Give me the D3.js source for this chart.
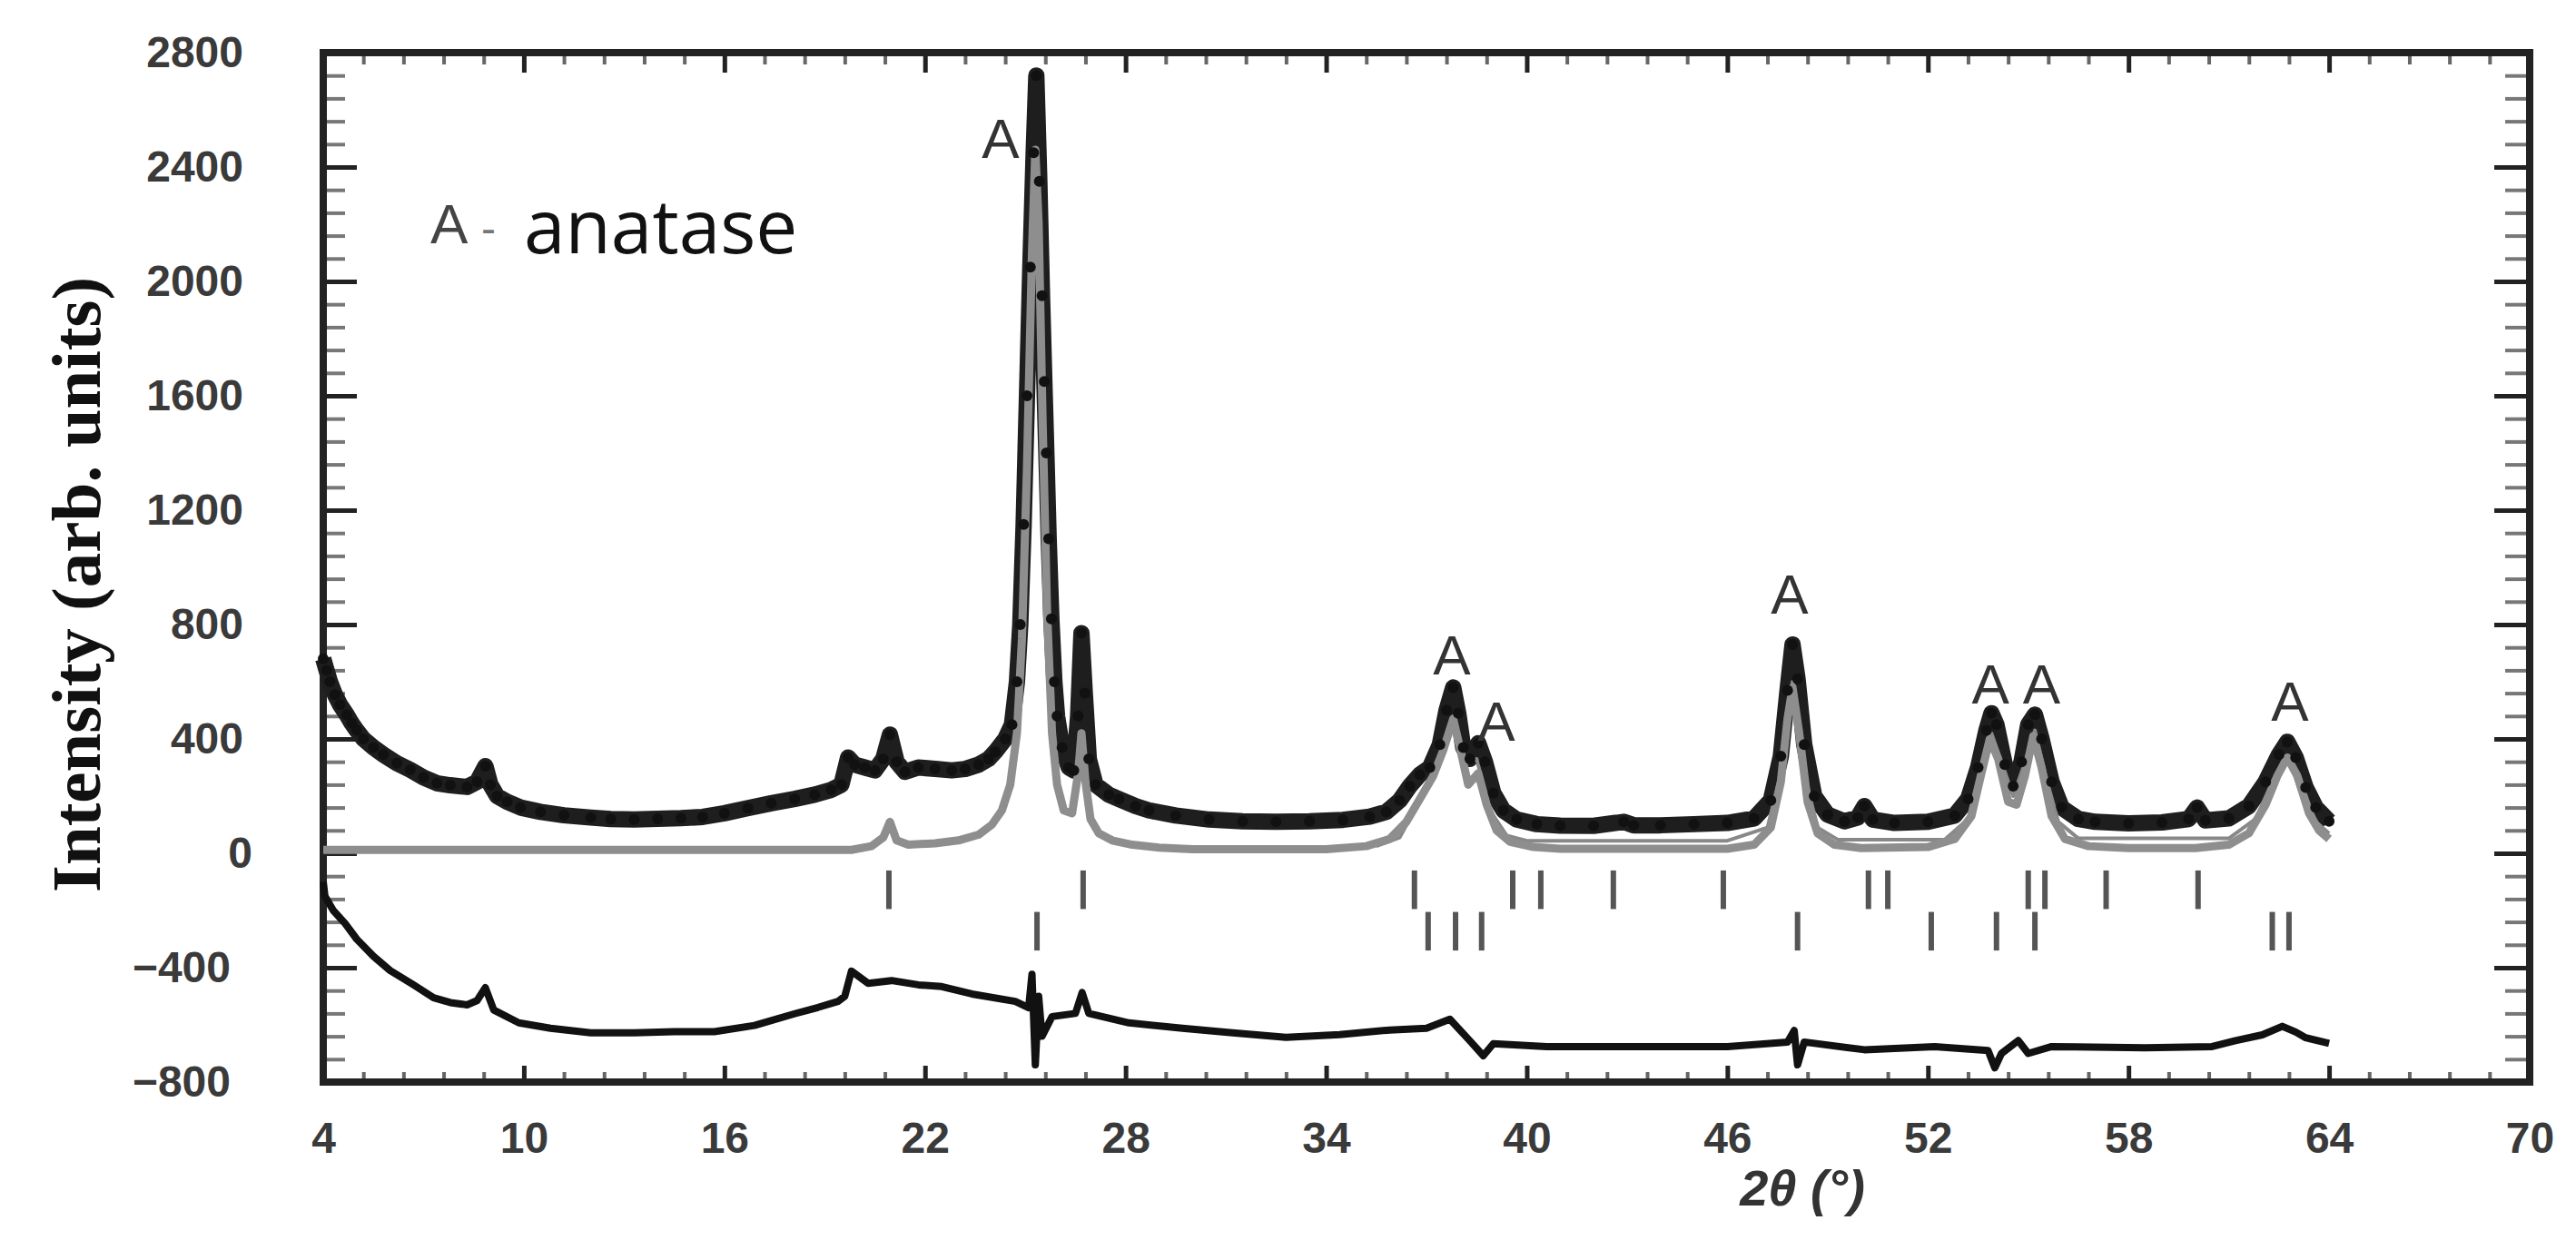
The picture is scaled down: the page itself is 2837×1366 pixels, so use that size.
<!DOCTYPE html>
<html>
<head>
<meta charset="utf-8">
<script src="https://cdn.jsdelivr.net/npm/d3@7"></script>
<style>
	body { margin: 0; background: #fff; }
	svg { display: block; }
</style>
</head>
<body>
<div id="container"></div>
<script>
//Observed pattern (2theta in deg, intensity)
var obsX = [4.0,4.1,4.2,4.35,4.5,4.7,4.85,5.0,5.2,5.5,5.8,6.2,6.6,7.0,7.4,7.8,8.3,8.6,8.85,9.0,9.2,9.5,9.9,10.5,11.2,12.0,12.6,13.3,14.0,14.7,15.35,16.0,16.7,17.4,18.1,18.7,19.2,19.5,19.7,19.9,20.2,20.5,20.75,20.95,21.15,21.4,21.8,22.3,22.8,23.2,23.6,23.9,24.1,24.4,24.6,24.75,24.85,24.95,25.05,25.15,25.25,25.33,25.42,25.5,25.57,25.63,25.7,25.78,25.87,25.95,26.1,26.3,26.45,26.58,26.68,26.78,26.9,27.1,27.5,27.8,28.3,28.7,29.5,30.5,31.5,32.5,33.5,34.5,35.3,35.8,36.2,36.5,36.8,37.1,37.4,37.6,37.8,37.95,38.1,38.3,38.55,38.75,39.0,39.3,39.7,40.3,41.0,42.0,42.9,43.2,44.0,45.0,46.0,46.8,47.3,47.6,47.8,47.95,48.1,48.3,48.6,49.0,49.5,49.9,50.1,50.35,51.0,52.0,52.8,53.2,53.5,53.75,53.9,54.05,54.3,54.55,54.8,55.0,55.2,55.4,55.7,56.0,56.5,57.0,58.0,59.0,59.8,60.05,60.3,61.0,61.6,62.1,62.5,62.75,63.0,63.3,63.6,64.0];
var obsY = [680,640,600,555,520,485,455,430,400,370,345,315,292,265,245,238,232,250,305,240,200,180,160,145,133,125,120,118,121,123,127,140,158,175,190,205,222,240,335,310,300,290,330,415,320,285,300,295,290,295,310,330,355,400,450,600,800,1150,1600,2050,2450,2720,2350,1950,1650,1400,1100,820,600,480,370,300,290,480,770,560,330,240,205,190,165,150,132,118,112,110,112,117,128,145,185,235,275,300,380,500,580,490,370,330,385,320,210,150,118,102,97,96,110,98,98,102,106,122,185,340,570,730,610,380,200,135,112,125,165,118,106,110,132,190,300,430,490,450,310,235,320,450,485,400,250,160,120,110,105,108,120,160,115,122,165,250,345,390,335,230,160,112];

//Calculated pattern (all phases, no background)
var calcX = [4.0,19.8,20.4,20.75,20.95,21.15,21.5,22.3,23.0,23.6,24.0,24.3,24.55,24.75,24.9,25.05,25.2,25.3,25.4,25.52,25.65,25.8,25.95,26.15,26.4,26.58,26.68,26.8,26.95,27.2,27.6,28.2,29.0,30.0,34.0,35.2,35.9,36.4,36.8,37.2,37.5,37.8,38.0,38.25,38.55,38.8,39.1,39.5,40.2,41.0,46.0,46.8,47.3,47.6,47.8,47.95,48.15,48.4,48.7,49.2,50.0,52.0,52.8,53.3,53.6,53.85,54.1,54.4,54.65,54.9,55.15,55.4,55.7,56.1,56.8,58.0,60.0,61.0,61.6,62.1,62.45,62.75,63.05,63.4,63.7,64.0];
var calcY = [12,12,25,55,110,45,30,35,45,65,100,150,240,420,750,1350,2100,2460,2200,1500,850,420,240,150,140,280,420,250,120,70,45,30,20,14,14,25,50,110,190,270,360,470,370,240,280,170,80,40,22,16,16,30,90,250,470,580,420,180,70,30,18,22,50,130,280,400,330,180,170,270,410,300,130,50,25,18,18,30,70,170,270,335,270,140,80,50];

//Calculated pattern with background (thin line under the data, high angles)
var fitX = [35.5,36.2,36.8,37.4,37.8,38.1,38.5,38.9,39.4,40.0,46.0,47.2,47.6,47.95,48.3,48.7,49.3,52.5,53.2,53.55,53.9,54.2,54.55,54.85,55.2,55.5,55.9,56.5,61.0,61.8,62.3,62.75,63.2,63.6,64.0];
var fitY = [25,55,185,335,480,320,330,150,62,44,44,90,280,600,280,90,48,48,120,280,420,320,200,300,430,280,110,52,52,120,250,340,230,110,70];

//Difference curve (obs - calc, shifted)
var diffX = [4.0,4.05,4.3,4.65,5.0,5.5,6.0,6.7,7.3,7.8,8.3,8.6,8.85,9.1,9.85,10.8,12.0,13.3,14.5,15.7,16.9,18.1,18.8,19.4,19.6,19.8,20.3,21.0,21.8,22.5,23.4,24.7,25.1,25.2,25.3,25.4,25.5,25.8,26.5,26.7,26.9,28.1,29.7,31.2,32.8,34.4,35.9,37.0,37.7,38.3,38.7,39.0,40.6,43.2,46.0,47.8,48.0,48.1,48.3,50.1,52.2,53.8,54.0,54.2,54.7,55.0,55.7,58.5,60.5,61.2,62.0,62.6,63.0,63.3,64.0];
var diffY = [-100,-150,-200,-245,-300,-360,-410,-460,-505,-522,-530,-515,-470,-548,-593,-612,-628,-628,-624,-624,-602,-561,-539,-518,-500,-412,-455,-445,-460,-466,-492,-518,-540,-423,-740,-500,-640,-571,-560,-487,-560,-593,-612,-628,-644,-634,-618,-612,-580,-656,-708,-666,-676,-676,-676,-660,-620,-740,-660,-687,-676,-690,-750,-700,-655,-700,-676,-680,-676,-655,-635,-605,-625,-645,-665];

//Bragg reflection positions (two rows)
var braggRow1 = [20.92,26.73,36.64,39.58,40.42,42.59,45.88,50.22,50.80,55.0,55.5,57.33,60.08];
var braggRow2 = [25.35,37.05,37.87,38.65,48.1,52.1,54.05,55.2,62.3,62.8];

//Anatase peak labels
var peakLabelX = [24.26,37.76,39.09,47.86,53.87,55.4,62.83];
var peakLabelY = [2505,698,466,910,596,596,536];

//Axis ticks
var xTicks = [4,10,16,22,28,34,40,46,52,58,64,70];
var yTicks = [-800,-400,0,400,800,1200,1600,2000,2400,2800];

function makeChart(){
	var w = 2837;
	var h = 1366;

	var svg = d3.select("#container")
		.append("svg")
		.attr("width", w)
		.attr("height", h);

	svg.append("rect")
		.attr("width", w)
		.attr("height", h)
		.attr("fill", "#fff");

	var xScale = d3.scaleLinear()
		.domain([4, 70])
		.range([356, 2786]);

	var yScale = d3.scaleLinear()
		.domain([-800, 2800])
		.range([1192, 58]);

	//minor ticks: 5 steps between labelled ticks
	var xMinor = d3.range(0, 56).map(function(i){ return 4 + i * 1.2; })
		.filter(function(v, i){ return i % 5 != 0; });
	var yMinor = d3.range(0, 46).map(function(i){ return -800 + i * 80; })
		.filter(function(v, i){ return i % 5 != 0; });

	function tickGroup(gen, tr, color, sw){
		var g = svg.append("g").attr("transform", tr).call(gen);
		g.select(".domain").remove();
		g.selectAll("line").attr("stroke", color).attr("stroke-width", sw);
		return g;
	}

	//minor ticks (all four sides)
	tickGroup(d3.axisBottom(xScale).tickValues(xMinor).tickSize(-11).tickFormat(""), "translate(0,1192)", "#666", 4);
	tickGroup(d3.axisTop(xScale).tickValues(xMinor).tickSize(-13).tickFormat(""), "translate(0,58)", "#666", 4);
	tickGroup(d3.axisLeft(yScale).tickValues(yMinor).tickSize(-24).tickFormat(""), "translate(356,0)", "#777", 4);
	tickGroup(d3.axisRight(yScale).tickValues(yMinor).tickSize(-27).tickFormat(""), "translate(2786,0)", "#777", 4);

	//major ticks
	var xAxis = tickGroup(d3.axisBottom(xScale).tickValues(xTicks).tickSize(-18).tickPadding(44).tickFormat(d3.format("d")), "translate(0,1192)", "#222", 5);
	tickGroup(d3.axisTop(xScale).tickValues(xTicks).tickSize(-22).tickFormat(""), "translate(0,58)", "#222", 5);
	var yAxis = tickGroup(d3.axisLeft(yScale).tickValues(yTicks).tickSize(-37).tickPadding(88).tickFormat(d3.format("d")), "translate(356,0)", "#222", 5);
	tickGroup(d3.axisRight(yScale).tickValues(yTicks).tickSize(-39).tickFormat(""), "translate(2786,0)", "#222", 5);

	xAxis.selectAll("text")
		.attr("font-family", "'Liberation Sans', Arial, sans-serif")
		.attr("font-weight", "bold")
		.attr("font-size", "48px")
		.attr("fill", "#3a3a3a");

	yAxis.selectAll("text")
		.attr("font-family", "'Liberation Sans', Arial, sans-serif")
		.attr("font-weight", "bold")
		.attr("font-size", "48px")
		.attr("fill", "#3a3a3a")
		.attr("dx", function(d){ return d < 0 ? -14 : (d == 0 ? 10 : 0); });

	//frame
	svg.append("rect")
		.attr("x", 356)
		.attr("y", 58)
		.attr("width", 2430)
		.attr("height", 1134)
		.attr("fill", "none")
		.attr("stroke", "#222")
		.attr("stroke-width", 8);

	var line = function(xs){
		return d3.line()
			.x(function(d, i){ return xScale(xs[i]); })
			.y(function(d){ return yScale(d); });
	};

	//observed band
	svg.append("path")
		.datum(obsY)
		.attr("d", line(obsX))
		.attr("fill", "none")
		.attr("stroke", "#1e1e1e")
		.attr("stroke-width", 18)
		.attr("stroke-linejoin", "round");

	//calculated lines
	svg.append("path")
		.datum(fitY)
		.attr("d", line(fitX))
		.attr("fill", "none")
		.attr("stroke", "#888")
		.attr("stroke-width", 4)
		.attr("stroke-linejoin", "round");

	svg.append("path")
		.datum(calcY)
		.attr("d", line(calcX))
		.attr("fill", "none")
		.attr("stroke", "#8e8e8e")
		.attr("stroke-width", 9)
		.attr("stroke-linejoin", "round");

	//observed points on top
	svg.append("g").selectAll("circle")
		.data(obsY)
		.enter()
		.append("circle")
		.attr("cx", function(d, i){ return xScale(obsX[i]); })
		.attr("cy", function(d){ return yScale(d); })
		.attr("r", 6)
		.attr("fill", "#111");

	//difference curve
	svg.append("path")
		.datum(diffY)
		.attr("d", line(diffX))
		.attr("fill", "none")
		.attr("stroke", "#111")
		.attr("stroke-width", 8)
		.attr("stroke-linejoin", "round");

	//Bragg markers
	svg.append("g").selectAll("line")
		.data(braggRow1)
		.enter()
		.append("line")
		.attr("x1", function(d){ return xScale(d); })
		.attr("x2", function(d){ return xScale(d); })
		.attr("y1", yScale(-60))
		.attr("y2", yScale(-195))
		.attr("stroke", "#555")
		.attr("stroke-width", 6);

	svg.append("g").selectAll("line")
		.data(braggRow2)
		.enter()
		.append("line")
		.attr("x1", function(d){ return xScale(d); })
		.attr("x2", function(d){ return xScale(d); })
		.attr("y1", yScale(-205))
		.attr("y2", yScale(-340))
		.attr("stroke", "#555")
		.attr("stroke-width", 6);

	//"A" labels over anatase peaks
	svg.append("g").selectAll("text")
		.data(peakLabelX)
		.enter()
		.append("text")
		.text("A")
		.attr("x", function(d){ return xScale(d); })
		.attr("y", function(d, i){ return yScale(peakLabelY[i]) + 23; })
		.attr("text-anchor", "middle")
		.attr("font-family", "'Liberation Sans', Arial, sans-serif")
		.attr("font-size", "62px")
		.attr("fill", "#333");

	//legend text
	svg.append("text")
		.text("A")
		.attr("x", 474)
		.attr("y", 268)
		.attr("font-family", "'Liberation Sans', Arial, sans-serif")
		.attr("font-size", "62px")
		.attr("fill", "#444");
	svg.append("text")
		.text("-")
		.attr("x", 530)
		.attr("y", 268)
		.attr("font-family", "'Liberation Sans', Arial, sans-serif")
		.attr("font-size", "48px")
		.attr("fill", "#777");
	svg.append("text")
		.text("anatase")
		.attr("x", 577)
		.attr("y", 279)
		.attr("font-family", "'Open Sans', sans-serif")
		.attr("font-size", "82px")
		.attr("fill", "#111");

	//axis titles
	svg.append("text")
		.text("Intensity (arb. units)")
		.attr("transform", "translate(110,644) rotate(-90)")
		.attr("text-anchor", "middle")
		.attr("font-family", "'Liberation Serif', 'Times New Roman', serif")
		.attr("font-weight", "bold")
		.attr("font-size", "77px")
		.attr("fill", "#111");

	svg.append("text")
		.text("2\u03B8 (\u00B0)")
		.attr("x", 1985)
		.attr("y", 1328)
		.attr("text-anchor", "middle")
		.attr("font-family", "'Liberation Sans Narrow', 'Liberation Sans', sans-serif")
		.attr("font-style", "italic")
		.attr("font-weight", "bold")
		.attr("font-size", "56px")
		.attr("fill", "#333");
}

makeChart();
</script>
</body>
</html>
